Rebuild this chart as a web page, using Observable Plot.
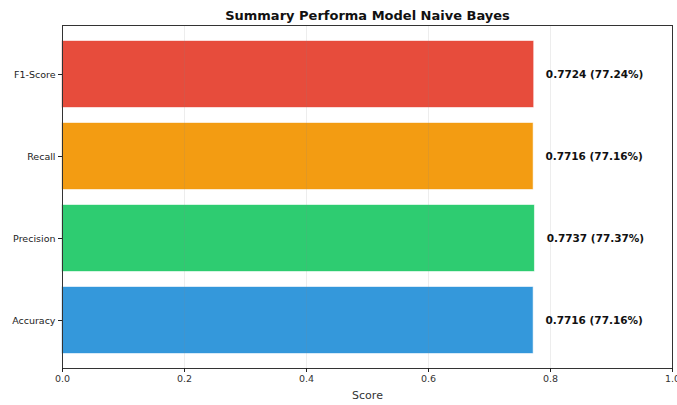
<!DOCTYPE html>
<html>
<head>
<meta charset="utf-8">
<script src="https://cdn.jsdelivr.net/npm/d3@7"></script>
<script src="https://cdn.jsdelivr.net/npm/@observablehq/plot@0.6"></script>
<style>
  body { margin: 0; background: #fff; }
  svg { font-family: "DejaVu Sans", sans-serif; }
</style>
</head>
<body>
<div id="chart"></div>
<script>
// Naive Bayes evaluation metrics
const metrics = ["Accuracy", "Precision", "Recall", "F1-Score"];
const scores = [0.7716, 0.7737, 0.7716, 0.7724];
const colors = ["#3498db", "#2ecc71", "#f39c12", "#e74c3c"];
const xTicks = [0, 0.2, 0.4, 0.6, 0.8, 1.0];

const data = metrics.map((m, i) => ({metric: m, score: scores[i], color: colors[i]}));

const chart = Plot.plot({
  width: 677,
  height: 405,
  marginLeft: 62,
  marginRight: 5,
  marginTop: 25,
  marginBottom: 37,
  style: {fontFamily: "DejaVu Sans, sans-serif", fontSize: "9px", color: "#222"},
  x: {domain: [0, 1]},
  y: {domain: metrics.slice().reverse(), paddingInner: 0.2, paddingOuter: 0.185},
  marks: [
    Plot.barX(data, {
      y: "metric", x: "score", fill: "color",
      stroke: "color", strokeOpacity: 0.4, strokeWidth: 1
    }),
    Plot.gridX(xTicks, {stroke: "#888", strokeOpacity: 0.15}),
    Plot.text(data, {
      y: "metric", x: d => d.score + 0.02, text: d => `${d.score.toFixed(4)} (${(d.score * 100).toFixed(2)}%)`,
      textAnchor: "start", fontWeight: "bold", fontSize: 10.5, fill: "#111"
    }),
    Plot.frame({stroke: "#333", strokeWidth: 1}),
    Plot.axisX({
      ticks: xTicks, tickFormat: d3.format(".1f"), tickSize: 4, tickPadding: 3,
      label: "Score", labelAnchor: "center", labelArrow: "none", labelOffset: 30,
      fontSize: 9.5, fill: "#333"
    }),
    Plot.axisY({tickSize: 4, tickPadding: 3, label: null, fontSize: 9.5, fill: "#222"}),
    Plot.text(["Summary Performa Model Naive Bayes"], {
      frameAnchor: "top", lineAnchor: "middle", dy: -10, fontWeight: "bold", fontSize: 13, fill: "#111"
    })
  ]
});

// Bump the axis title size
chart.querySelectorAll("[aria-label='x-axis label'] text").forEach(t => t.setAttribute("font-size", "11"));
document.getElementById("chart").appendChild(chart);
</script>
</body>
</html>
